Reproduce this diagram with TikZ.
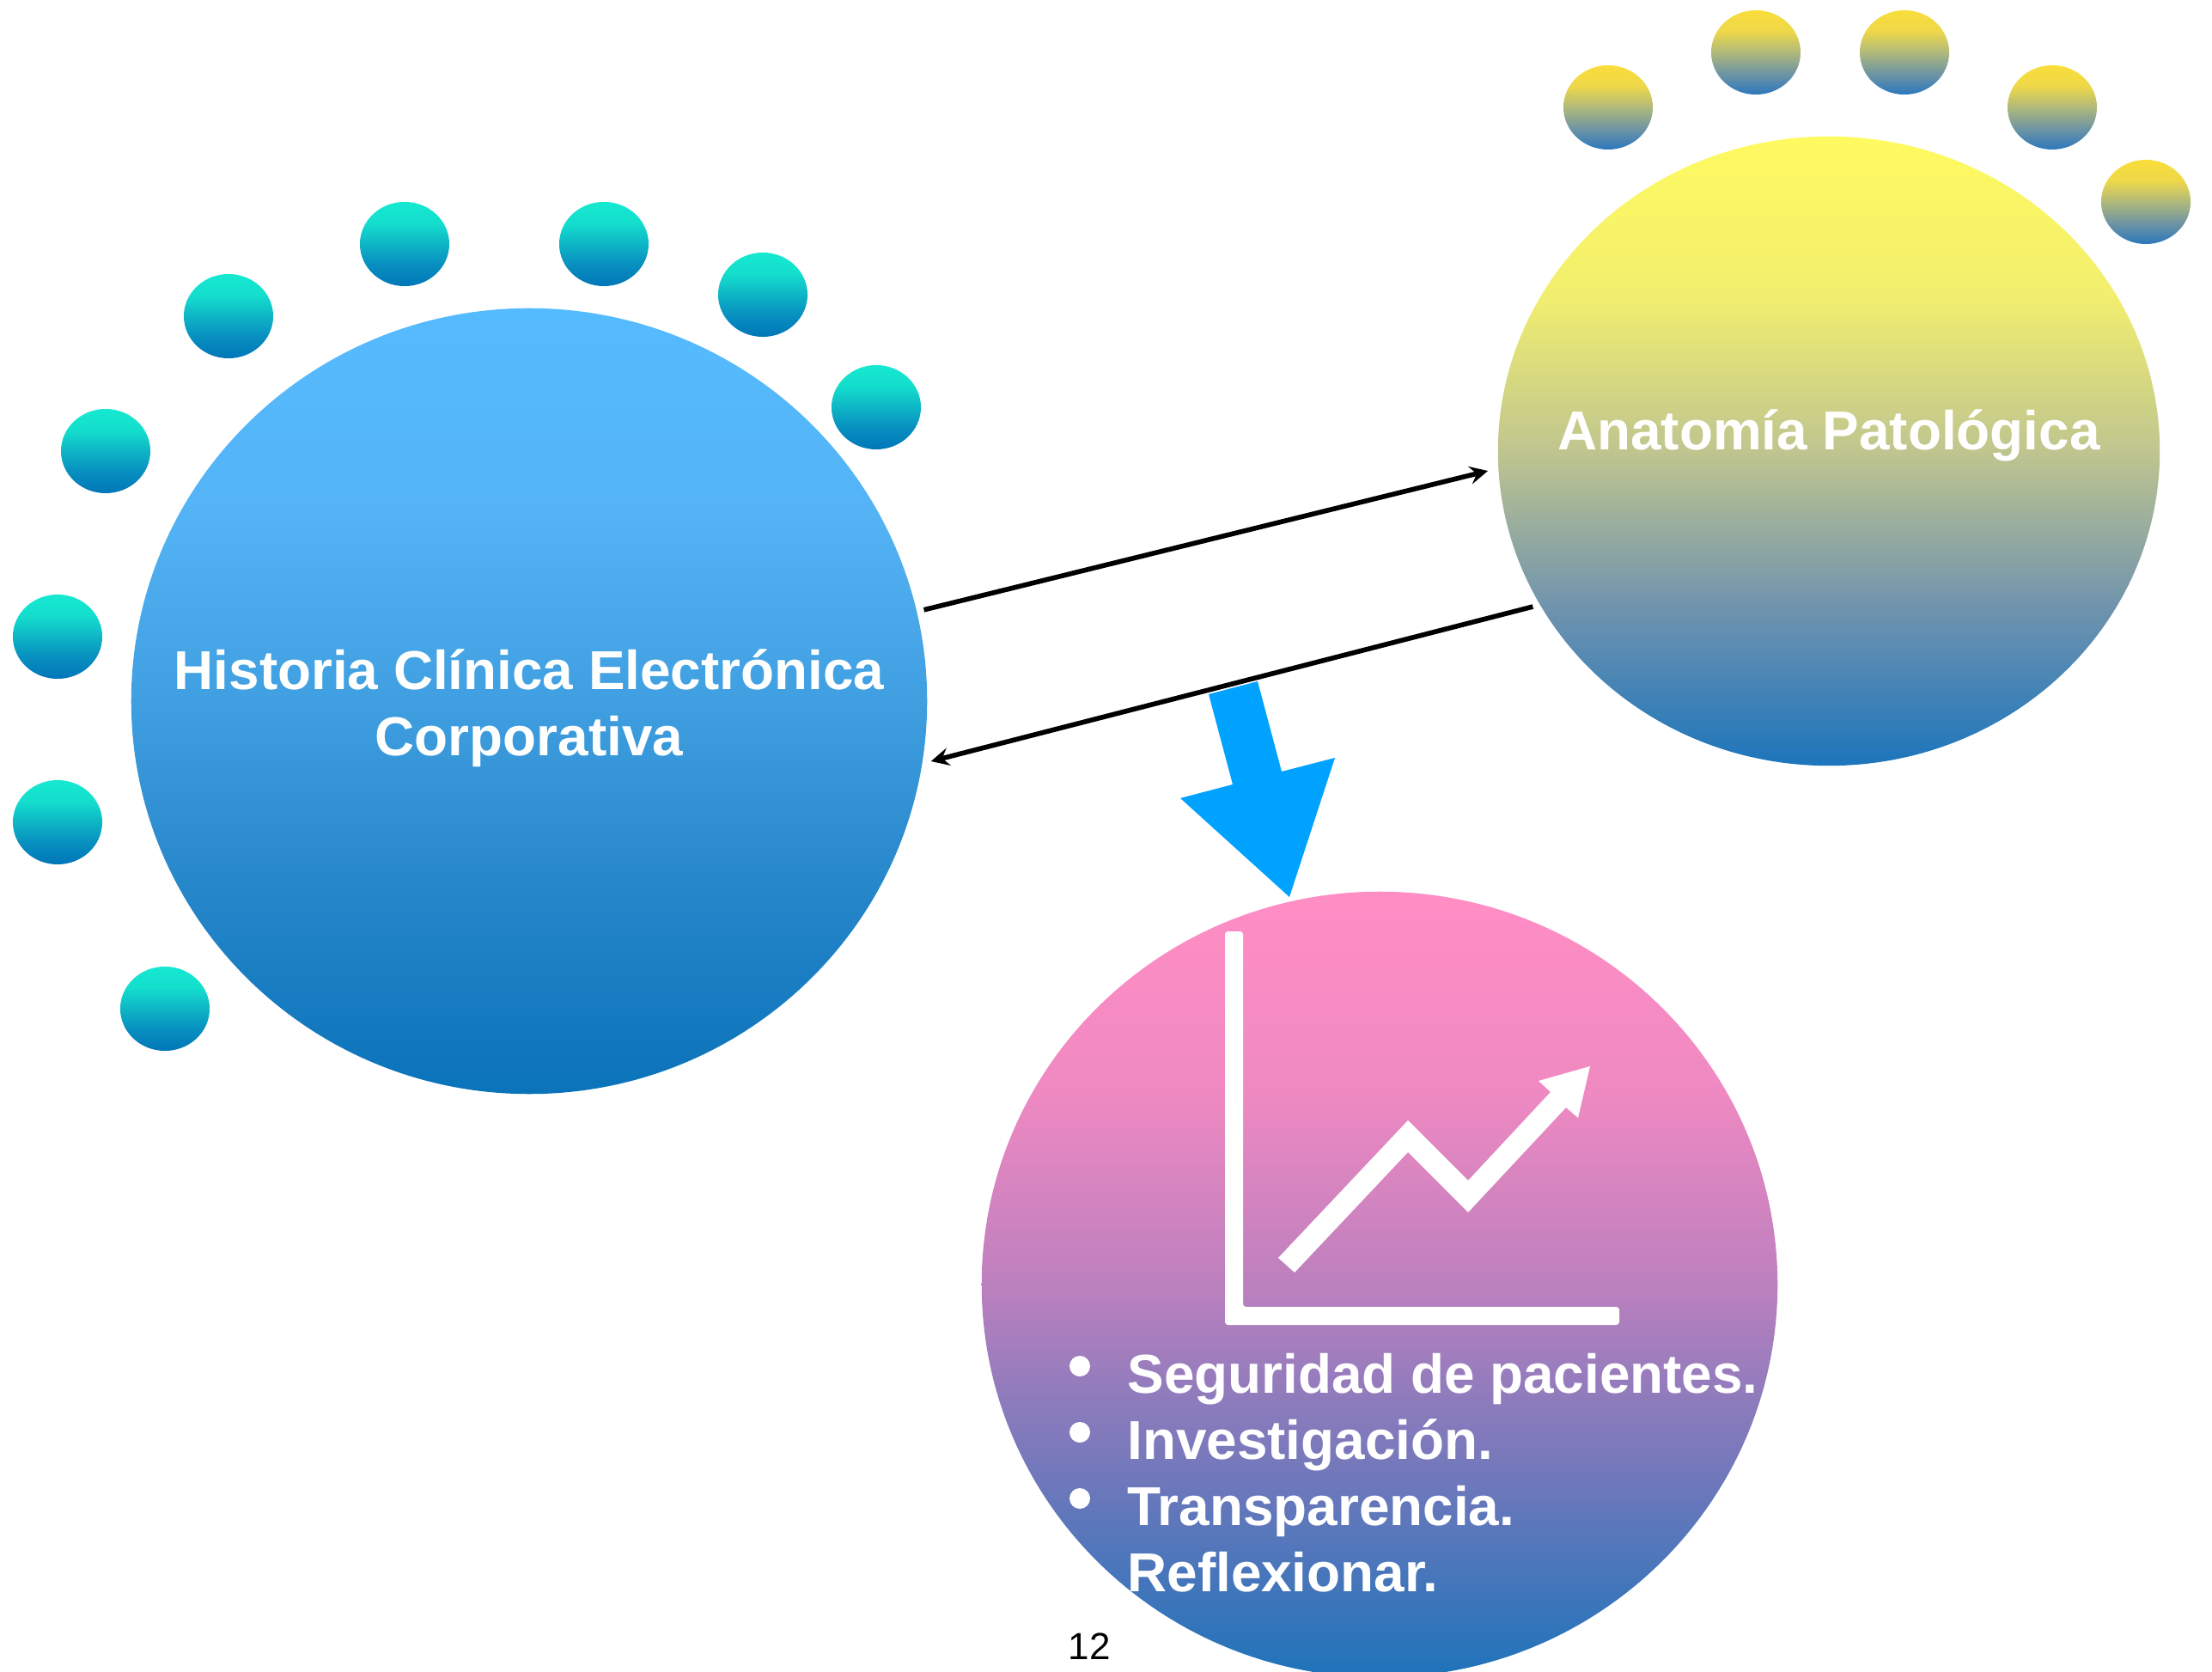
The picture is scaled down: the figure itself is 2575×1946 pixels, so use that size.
\documentclass[tikz,border=0pt]{standalone}
\usepackage{fontspec}
\setmainfont{Liberation Sans}
\usetikzlibrary{arrows,shapes.geometric}
\newcommand{\gradshade}[6]{
    \definecolor{#1a}{HTML}{#2}\definecolor{#1b}{HTML}{#3}\definecolor{#1c}{HTML}{#4}
    \definecolor{#1d}{HTML}{#5}\definecolor{#1e}{HTML}{#6}
    \pgfdeclareverticalshading{#1}{100bp}{color(0bp)=(#1a); color(25bp)=(#1a); color(37.5bp)=(#1b);
        color(50bp)=(#1c); color(62.5bp)=(#1d); color(75bp)=(#1e); color(100bp)=(#1e)}
}
\gradshade{hceshade}{0A73BA}{2585C9}{3F9FE0}{54B4F5}{55BBFF}
\gradshade{apshade}{1C75BC}{6F93AE}{BFC58F}{F2EF6E}{FFFA60}
\gradshade{resshade}{1E73BA}{6E78BB}{BC80BE}{F089C2}{FF8EC4}
\gradshade{tealshade}{0076B8}{078EBF}{0EB5C6}{14DECD}{15E8D0}
\gradshade{goldshade}{2C77BC}{6F95A3}{B0B97B}{EED84A}{F9DD3A}
\definecolor{bigarrow}{HTML}{00A2FF}
\tikzset{
    bigcircle/.style={ellipse,inner sep=0pt,minimum width=9.26cm,minimum height=9.14cm},
    dot/.style={ellipse,inner sep=0pt,minimum width=1.04cm,minimum height=0.98cm},
    tealdot/.style={dot,shading=tealshade},
    golddot/.style={dot,shading=goldshade},
    bigtext/.style={text=white,font=\fontsize{18.15}{21.8}\selectfont\bfseries,align=center},
    listtext/.style={bigtext,anchor=base west,align=left},
    link/.style={-stealth,line width=1.6pt}
}
\begin{document}
\begin{tikzpicture}[x=0.01cm,y=-0.01cm]
    \useasboundingbox (0,0) rectangle (2575,1946);
    \node[bigcircle,shading=hceshade] (hce) at (616,816) {};
    \node[bigcircle,minimum width=7.70cm,minimum height=7.32cm,shading=apshade] (ap) at (2129,525) {};
    \node[bigcircle,shading=resshade] (res) at (1606,1495) {};
    \foreach \px/\py [count=\i] in {471/284,703/284,888/343,1020/474,266/368,123/525,67/741,67/957,192/1174}
        \node[tealdot] (teal\i) at (\px,\py) {};
    \foreach \px/\py [count=\i] in {1872/125,2044/61,2217/61,2389/125,2498/235}
        \node[golddot] (gold\i) at (\px,\py) {};
    \node[bigtext] (hcetext) at (616,824) {Historia Clínica Electrónica\\Corporativa};
    \node[bigtext] (aptext) at (2129,507) {Anatomía Patológica};
    \fill[bigarrow] (1407,808) -- (1464,793) -- (1492,898) -- (1554,882) -- (1501,1044)
        -- (1374,929) -- (1435,913) -- cycle;
    \draw[link,shorten <=0.08cm,shorten >=0.12cm] (hce.13) -- (ap.183);
    \draw[link,shorten <=0.08cm,shorten >=0.10cm] (ap.208) -- (hce.-9);
    \fill[white,rounded corners=1pt] (1426,1084) -- (1447,1084) -- (1447,1521) -- (1885,1521)
        -- (1885,1542) -- (1426,1542) -- cycle;
    \fill[white] (1488,1464) -- (1639,1304) -- (1709,1374) -- (1805,1271) -- (1791,1258)
        -- (1851,1241) -- (1837,1301) -- (1823,1289) -- (1709,1411) -- (1639,1341) -- (1507,1481) -- cycle;
    \foreach \py [count=\i] in {1590,1667,1744}
        \node[circle,fill=white,inner sep=0pt,minimum size=0.24cm] (bullet\i) at (1257,\py) {};
    \node[listtext] (item1) at (1300,1621) {Seguridad de pacientes.};
    \node[listtext] (item2) at (1300,1698) {Investigación.};
    \node[listtext] (item3) at (1300,1775) {Transparencia.};
    \node[listtext] (item4) at (1300,1852) {Reflexionar.};
    \node[font=\fontsize{12.5}{15}\selectfont] (pagenum) at (1268,1916) {12};
\end{tikzpicture}
\end{document}
